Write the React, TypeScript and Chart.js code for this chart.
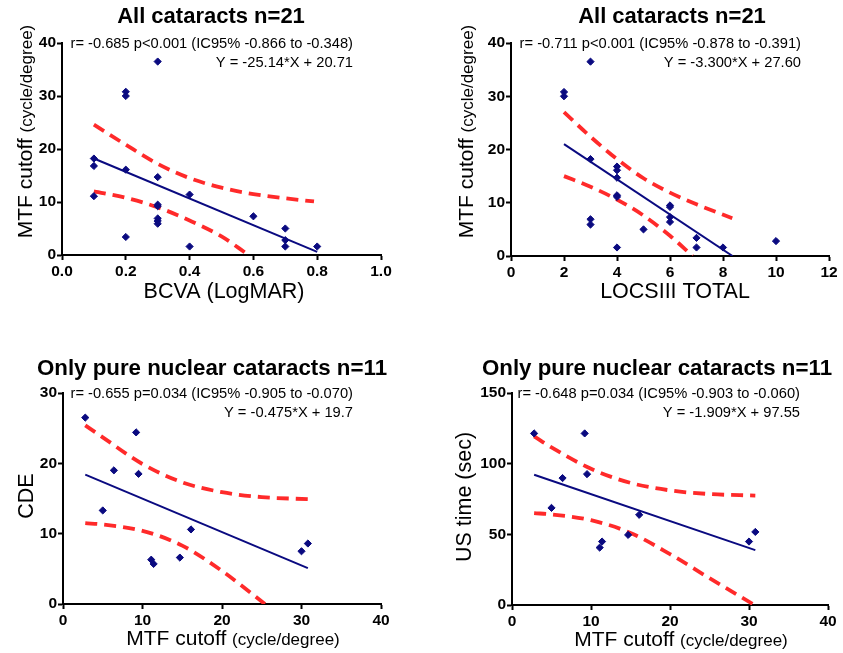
import React, { useEffect, useRef } from 'react';
import { Chart, registerables } from 'chart.js';

Chart.register(...registerables);

const FONT = '"Liberation Sans", Arial, Helvetica, sans-serif';
const NAVY = '#0a0a80';
const RED = '#ff2a2a';

// ---- All cataracts (n=21) ----
const mtfAll = [36.5, 30.8, 30.0, 18.2, 16.8, 16.1, 14.7, 11.4, 11.1, 9.5, 9.2, 7.3, 6.9, 6.4, 5.9, 5.0, 3.4, 2.8, 1.6, 1.6, 1.6];
const bcva = [0.3, 0.2, 0.2, 0.1, 0.1, 0.2, 0.3, 0.4, 0.1, 0.3, 0.3, 0.6, 0.3, 0.3, 0.3, 0.7, 0.2, 0.7, 0.4, 0.7, 0.8];
const locs = [3, 2, 2, 3, 4, 4, 4, 4, 4, 6, 6, 6, 3, 6, 3, 5, 7, 10, 4, 7, 8];

// ---- Pure nuclear cataracts (n=11) ----
const mtfNuc = [2.8, 5.0, 6.4, 9.2, 9.5, 11.1, 11.4, 14.7, 16.1, 30.0, 30.8];
const cde = [26.5, 13.3, 19.0, 24.4, 18.5, 6.3, 5.7, 6.6, 10.6, 7.5, 8.6];
const usTime = [121.4, 68.7, 89.8, 121.4, 92.6, 40.6, 44.9, 49.6, 63.8, 44.9, 51.7];

// ---- Regression lines (endpoints) ----
const fit1X = [0.1, 0.8];
const fit1Y = [18.2, 0.6];
const fit2X = [2, 8.36];
const fit2Y = [21.0, 0.0];
const fit3X = [2.8, 30.8];
const fit3Y = [18.4, 5.1];
const fit4X = [2.8, 30.8];
const fit4Y = [92.2, 38.8];

// ---- 95% confidence bands ----
const up1X = [0.1, 0.2, 0.3, 0.4, 0.5, 0.6, 0.7, 0.79];
const up1Y = [24.6, 20.8, 17.2, 14.5, 12.7, 11.5, 10.7, 10.1];
const lo1X = [0.1, 0.2, 0.3, 0.4, 0.5, 0.585];
const lo1Y = [12.0, 10.8, 9.0, 6.5, 3.5, 0.0];

const up2X = [2, 3, 4, 5, 6, 7, 8.35];
const up2Y = [27.0, 22.4, 18.2, 14.6, 11.9, 9.7, 7.1];
const lo2X = [2, 3, 4, 5, 6, 6.85];
const lo2Y = [15.0, 13.0, 10.6, 7.6, 3.8, 0.0];

const up3X = [2.8, 5, 10, 15, 20, 25, 30.8];
const up3Y = [25.4, 23.7, 19.9, 17.3, 15.9, 15.2, 14.9];
const lo3X = [2.8, 5, 10, 15, 20, 25.4];
const lo3Y = [11.5, 11.3, 10.4, 8.3, 4.7, 0.0];

const up4X = [2.8, 5, 10, 15, 20, 25, 30.8];
const up4Y = [119.3, 111.5, 96.4, 86.4, 81.1, 78.5, 77.4];
const lo4X = [2.8, 5, 10, 15, 20, 25, 30.7];
const lo4Y = [65.0, 64.1, 60.0, 51.0, 36.0, 19.0, 0.0];

type Part = { text: string; size: number };
type PanelDef = {
  key: string;
  box: [number, number, number, number];
  area: [number, number, number, number];
  title: string;
  titleX: number;
  titleBase: number;
  titleSize: number;
  stat1: string;
  stat2: string;
  xTitle: Part[];
  xTitleX: number;
  xTitleBase: number;
  yTitle: Part[];
  yTitleBase: number;
  yTitleCenter: number;
  xMin: number; xMax: number; xStep: number; xDec: number;
  yMin: number; yMax: number; yStep: number;
  px: number[]; py: number[];
  fx: number[]; fy: number[];
  ux: number[]; uy: number[];
  lx: number[]; ly: number[];
};

const mtfY: Part[] = [{ text: 'MTF cutoff ', size: 21 }, { text: '(cycle/degree)', size: 17 }];

const panels: PanelDef[] = [
  {
    key: 'p1', box: [0, 0, 421, 325], area: [62, 43, 381, 255],
    title: 'All cataracts n=21', titleX: 211, titleBase: 23, titleSize: 22,
    stat1: 'r= -0.685 p<0.001 (IC95% -0.866 to -0.348)', stat2: 'Y = -25.14*X + 20.71',
    xTitle: [{ text: 'BCVA (LogMAR)', size: 21.5 }], xTitleX: 224, xTitleBase: 298,
    yTitle: mtfY, yTitleBase: 32, yTitleCenter: 131.5,
    xMin: 0, xMax: 1, xStep: 0.2, xDec: 1, yMin: 0, yMax: 40, yStep: 10,
    px: bcva, py: mtfAll, fx: fit1X, fy: fit1Y, ux: up1X, uy: up1Y, lx: lo1X, ly: lo1Y,
  },
  {
    key: 'p2', box: [421, 0, 422, 325], area: [511, 43, 829, 256],
    title: 'All cataracts n=21', titleX: 672, titleBase: 23, titleSize: 22,
    stat1: 'r= -0.711 p<0.001 (IC95% -0.878 to -0.391)', stat2: 'Y = -3.300*X + 27.60',
    xTitle: [{ text: 'LOCSIII TOTAL', size: 21.5 }], xTitleX: 675, xTitleBase: 298,
    yTitle: mtfY, yTitleBase: 473, yTitleCenter: 131.5,
    xMin: 0, xMax: 12, xStep: 2, xDec: 0, yMin: 0, yMax: 40, yStep: 10,
    px: locs, py: mtfAll, fx: fit2X, fy: fit2Y, ux: up2X, uy: up2Y, lx: lo2X, ly: lo2Y,
  },
  {
    key: 'p3', box: [0, 327, 421, 326], area: [63, 393, 381, 604],
    title: 'Only pure nuclear cataracts n=11', titleX: 212, titleBase: 375, titleSize: 22.3,
    stat1: 'r= -0.655 p=0.034 (IC95% -0.905 to -0.070)', stat2: 'Y = -0.475*X + 19.7',
    xTitle: mtfY, xTitleX: 233, xTitleBase: 645,
    yTitle: [{ text: 'CDE', size: 21.5 }], yTitleBase: 33, yTitleCenter: 496,
    xMin: 0, xMax: 40, xStep: 10, xDec: 0, yMin: 0, yMax: 30, yStep: 10,
    px: mtfNuc, py: cde, fx: fit3X, fy: fit3Y, ux: up3X, uy: up3Y, lx: lo3X, ly: lo3Y,
  },
  {
    key: 'p4', box: [421, 327, 422, 326], area: [512, 393, 828, 605],
    title: 'Only pure nuclear cataracts n=11', titleX: 657, titleBase: 375, titleSize: 22.3,
    stat1: 'r= -0.648 p=0.034 (IC95% -0.903 to -0.060)', stat2: 'Y = -1.909*X + 97.55',
    xTitle: mtfY, xTitleX: 681, xTitleBase: 646,
    yTitle: [{ text: 'US time (sec)', size: 21.5 }], yTitleBase: 471, yTitleCenter: 497,
    xMin: 0, xMax: 40, xStep: 10, xDec: 0, yMin: 0, yMax: 150, yStep: 50,
    px: mtfNuc, py: usTime, fx: fit4X, fy: fit4Y, ux: up4X, uy: up4Y, lx: lo4X, ly: lo4Y,
  },
];

function drawParts(ctx: CanvasRenderingContext2D, parts: Part[], cx: number, base: number) {
  let total = 0;
  const widths = parts.map((pt) => {
    ctx.font = `${pt.size}px ${FONT}`;
    const w = ctx.measureText(pt.text).width;
    total += w;
    return w;
  });
  let x = cx - total / 2;
  ctx.textAlign = 'left';
  ctx.textBaseline = 'alphabetic';
  parts.forEach((pt, i) => {
    ctx.font = `${pt.size}px ${FONT}`;
    ctx.fillText(pt.text, x, base);
    x += widths[i];
  });
}

function overlay(p: PanelDef) {
  return {
    id: 'overlay_' + p.key,
    afterDraw(chart: any) {
      const ctx: CanvasRenderingContext2D = chart.ctx;
      const ca = chart.chartArea;
      const ox = p.box[0];
      const oy = p.box[1];
      ctx.save();
      ctx.fillStyle = '#000';
      ctx.textBaseline = 'alphabetic';
      ctx.font = `bold ${p.titleSize}px ${FONT}`;
      ctx.textAlign = 'center';
      ctx.fillText(p.title, p.titleX - ox, p.titleBase - oy);
      ctx.font = `14.7px ${FONT}`;
      ctx.textAlign = 'right';
      ctx.fillText(p.stat1, ca.right - 28, ca.top + 4.5);
      ctx.fillText(p.stat2, ca.right - 28, ca.top + 23.5);
      drawParts(ctx, p.xTitle, p.xTitleX - ox, p.xTitleBase - oy);
      ctx.translate(p.yTitleBase - ox, p.yTitleCenter - oy);
      ctx.rotate(-Math.PI / 2);
      drawParts(ctx, p.yTitle, 0, 0);
      ctx.restore();
    },
  };
}

const zip = (xs: number[], ys: number[]) => xs.map((x, i) => ({ x, y: ys[i] }));

function Panel({ p }: { p: PanelDef }) {
  const ref = useRef<HTMLCanvasElement | null>(null);
  useEffect(() => {
    if (!ref.current) return;
    const [bl, bt, bw, bh] = p.box;
    const [al, at, ar, ab] = p.area;
    const tickFont = { family: FONT, size: 15.5, weight: 'bold' as const };
    const chart = new Chart(ref.current, {
      type: 'scatter',
      data: {
        datasets: [
          {
            data: zip(p.px, p.py),
            pointStyle: 'rectRot',
            pointRadius: 3.6,
            backgroundColor: NAVY,
            borderColor: NAVY,
            borderWidth: 1,
            showLine: false,
          },
          {
            data: zip(p.fx, p.fy),
            showLine: true,
            borderColor: NAVY,
            borderWidth: 2,
            pointRadius: 0,
          },
          {
            data: zip(p.ux, p.uy),
            showLine: true,
            borderColor: RED,
            borderWidth: 3.8,
            borderDash: [12, 7],
            pointRadius: 0,
            cubicInterpolationMode: 'monotone',
          },
          {
            data: zip(p.lx, p.ly),
            showLine: true,
            borderColor: RED,
            borderWidth: 3.8,
            borderDash: [12, 7],
            pointRadius: 0,
            cubicInterpolationMode: 'monotone',
          },
        ] as any,
      },
      options: {
        animation: false,
        responsive: false,
        events: [],
        layout: { padding: { left: 0, top: at - bt, right: bl + bw - ar, bottom: 0 } },
        plugins: { legend: { display: false }, tooltip: { enabled: false }, title: { display: false } },
        scales: {
          x: {
            type: 'linear',
            min: p.xMin,
            max: p.xMax,
            ticks: {
              stepSize: p.xStep,
              font: tickFont,
              color: '#000',
              padding: 2,
              maxRotation: 0,
              autoSkip: false,
              callback: (v: any) => Number(v).toFixed(p.xDec),
            },
            grid: { drawOnChartArea: false, tickLength: 5, tickWidth: 2, tickColor: '#000' },
            border: { color: '#000', width: 2 },
            afterFit: (s: any) => { s.height = bt + bh - ab; },
          },
          y: {
            type: 'linear',
            min: p.yMin,
            max: p.yMax,
            ticks: {
              stepSize: p.yStep,
              font: tickFont,
              color: '#000',
              padding: 1,
              autoSkip: false,
              callback: (v: any) => String(Number(v)),
            },
            grid: { drawOnChartArea: false, tickLength: 5, tickWidth: 2, tickColor: '#000' },
            border: { color: '#000', width: 2 },
            afterFit: (s: any) => { s.width = al - bl; },
          },
        } as any,
      },
      plugins: [overlay(p)],
    });
    return () => chart.destroy();
  }, [p]);
  const [bl, bt, bw, bh] = p.box;
  return (
    <canvas
      ref={ref}
      width={bw}
      height={bh}
      style={{ position: 'absolute', left: bl, top: bt, width: bw, height: bh }}
    />
  );
}

export default function App() {
  return (
    <div style={{ position: 'fixed', left: 0, top: 0, width: 843, height: 653, background: '#fff', overflow: 'hidden' }}>
      {panels.map((p) => (
        <Panel key={p.key} p={p} />
      ))}
    </div>
  );
}
